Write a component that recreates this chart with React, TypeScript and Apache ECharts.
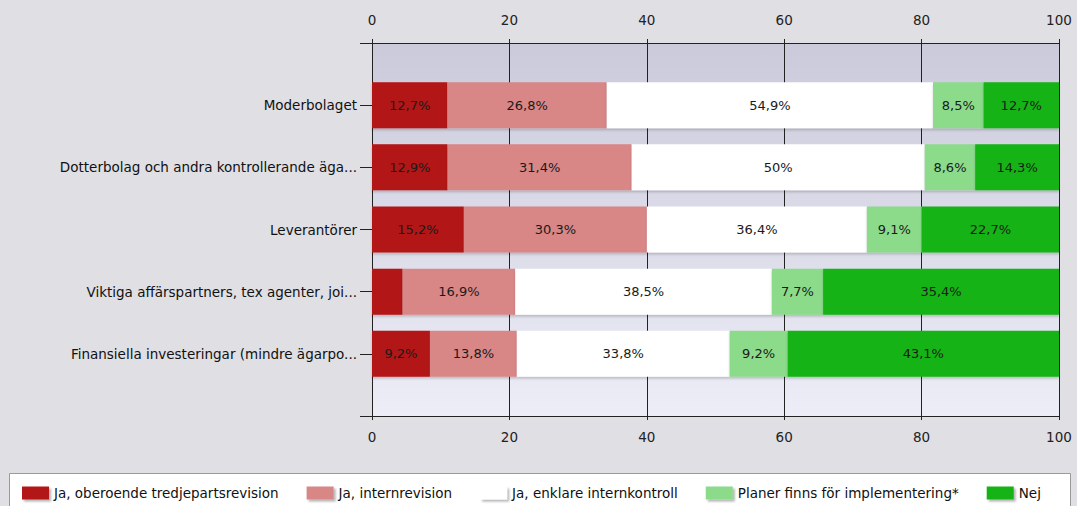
import React, { useEffect, useRef } from "react";
import * as echarts from "echarts";

const categories = [
  "Moderbolaget",
  "Dotterbolag och andra kontrollerande äga...",
  "Leverantörer",
  "Viktiga affärspartners, tex agenter, joi...",
  "Finansiella investeringar (mindre ägarpo...",
];

const seriesNames = [
  "Ja, oberoende tredjepartsrevision",
  "Ja, internrevision",
  "Ja, enklare internkontroll",
  "Planer finns för implementering*",
  "Nej",
];

// Printed percentages (answers may overlap, so rows sum to more than 100)
const oberoende = [12.7, 12.9, 15.2, 4.6, 9.2];
const internrevision = [26.8, 31.4, 30.3, 16.9, 13.8];
const enklare = [54.9, 50, 36.4, 38.5, 33.8];
const planer = [8.5, 8.6, 9.1, 7.7, 9.2];
const nej = [12.7, 14.3, 22.7, 35.4, 43.1];

const xTicks = [0, 20, 40, 60, 80, 100];

const colors = ["#b31313", "#d98686", "#ffffff", "#8bdb8b", "#13b313"];

const FONT = "DejaVu Sans";
const FS = 13.5;

export default function App() {
  const ref = useRef<HTMLDivElement>(null);

  useEffect(() => {
    if (!ref.current) return;
    const chart = echarts.init(ref.current, undefined, { renderer: "svg" });
    const all = [oberoende, internrevision, enklare, planer, nej];
    const rowSums = categories.map((_, i) => all.reduce((s, arr) => s + arr[i], 0));
    const yData = ["", ...categories, ""];

    const series = all.map((arr, si) => ({
      type: "bar",
      name: seriesNames[si],
      stack: "total",
      xAxisIndex: 0,
      barWidth: 46,
      itemStyle: {
        color: colors[si],
        shadowColor: "rgba(0,0,0,0.18)",
        shadowOffsetY: 2,
        shadowBlur: 2,
      },
      label: {
        show: true,
        position: "inside",
        color: "#1a1a1a",
        fontSize: 13,
        fontFamily: FONT,
        formatter: (p: any) => {
          const v = arr[p.dataIndex - 1];
          return String(v).replace(".", ",") + "%";
        },
      },
      data: [
        null,
        ...arr.map((v, i) => ({
          value: (v / rowSums[i]) * 100,
          label: { show: v >= 5 },
        })),
        null,
      ],
    }));

    const xAxisBase = {
      type: "value",
      min: xTicks[0],
      max: xTicks[xTicks.length - 1],
      interval: xTicks[1] - xTicks[0],
      axisLine: { show: true, lineStyle: { color: "#222", width: 1 } },
      axisTick: { show: true, length: 4, lineStyle: { color: "#222" } },
    };

    chart.setOption({
      animation: false,
      backgroundColor: "#dfdfe4",
      textStyle: { fontFamily: FONT },
      grid: {
        left: 372,
        right: 18,
        top: 43,
        bottom: 90,
        show: true,
        borderWidth: 0,
        backgroundColor: new echarts.graphic.LinearGradient(0, 0, 0, 1, [
          { offset: 0, color: "#cacadb" },
          { offset: 1, color: "#ededf7" },
        ]),
      },
      xAxis: [
        {
          ...xAxisBase,
          position: "top",
          axisLabel: { color: "#222", fontSize: FS, fontFamily: FONT, margin: 16 },
          splitLine: { show: true, lineStyle: { color: "#222", width: 1 } },
        },
        {
          ...xAxisBase,
          position: "bottom",
          axisLabel: { color: "#222", fontSize: FS, fontFamily: FONT, margin: 14 },
          splitLine: { show: false },
        },
      ],
      yAxis: {
        type: "category",
        inverse: true,
        boundaryGap: false,
        data: yData,
        axisLine: { show: true, lineStyle: { color: "#222", width: 1 } },
        axisTick: { show: true, length: 12, interval: 0, lineStyle: { color: "#222" } },
        axisLabel: { interval: 0, margin: 15, color: "#111", fontSize: FS, fontFamily: FONT },
        splitLine: { show: false },
      },
      legend: {
        left: 22,
        top: 486,
        padding: 0,
        itemWidth: 27,
        itemHeight: 13,
        itemGap: 28,
        icon: "rect",
        data: seriesNames,
        textStyle: { color: "#111", fontSize: FS, fontFamily: FONT },
        itemStyle: {
          shadowColor: "rgba(0,0,0,0.3)",
          shadowOffsetX: 2,
          shadowOffsetY: 2,
          shadowBlur: 2,
        },
      },
      graphic: [
        {
          type: "rect",
          z: -10,
          shape: { x: 9.5, y: 473.5, width: 1061, height: 60 },
          style: { fill: "#ffffff", stroke: "#9a9a9a", lineWidth: 1 },
        },
      ],
      series,
    });
    return () => chart.dispose();
  }, []);

  return (
    <div
      ref={ref}
      style={{ position: "fixed", left: 0, top: 0, width: 1077, height: 506 }}
    />
  );
}
